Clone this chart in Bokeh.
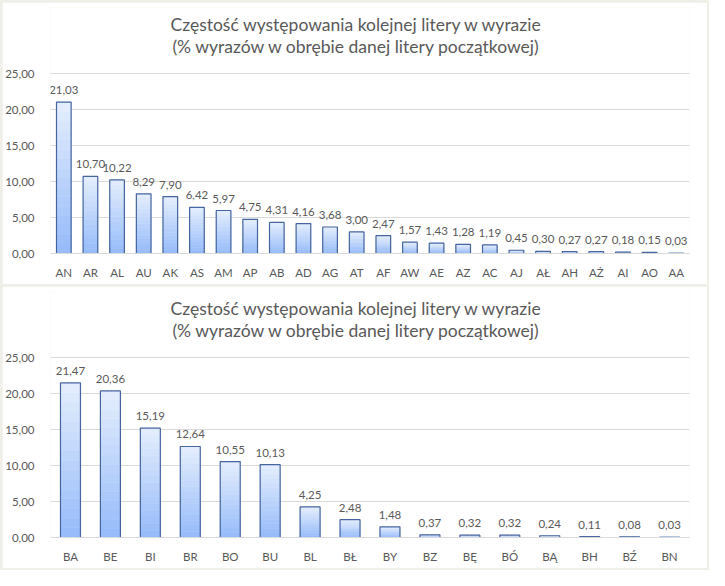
import numpy as np
from bokeh.plotting import figure
from bokeh.models import Label, FixedTicker, ColumnDataSource
from bokeh.layouts import column
from bokeh.embed import file_html
from bokeh.resources import INLINE
from bokeh.core.properties import value

title_line1 = "Częstość występowania kolejnej litery w wyrazie"
title_line2 = "(% wyrazów w obrębie danej litery początkowej)"

a_cats = ["AN", "AR", "AL", "AU", "AK", "AS", "AM", "AP", "AB", "AD", "AG", "AT",
          "AF", "AW", "AE", "AZ", "AC", "AJ", "AŁ", "AH", "AŻ", "AI", "AO", "AA"]
a_vals = [21.03, 10.70, 10.22, 8.29, 7.90, 6.42, 5.97, 4.75, 4.31, 4.16, 3.68, 3.00,
          2.47, 1.57, 1.43, 1.28, 1.19, 0.45, 0.30, 0.27, 0.27, 0.18, 0.15, 0.03]

b_cats = ["BA", "BE", "BI", "BR", "BO", "BU", "BL", "BŁ", "BY", "BZ", "BĘ", "BÓ",
          "BĄ", "BH", "BŹ", "BN"]
b_vals = [21.47, 20.36, 15.19, 12.64, 10.55, 10.13, 4.25, 2.48, 1.48, 0.37, 0.32, 0.32,
          0.24, 0.11, 0.08, 0.03]

y_ticks = [0, 5, 10, 15, 20, 25]
y_tick_labels = ["0,00", "5,00", "10,00", "15,00", "20,00", "25,00"]
y_axis_max = 25

FONT = "Lato"
TXT = "#595959"
GRID = "#d9d9d9"
TOP_RGB = np.array([229, 238, 253])
BOT_RGB = np.array([148, 186, 249])
EDGE = "#45659f"
NSLICE = 16
W, H = 705, 282
B_TOP, B_BOT = 5, 31
GRID_AREA = 180          # pixel height from 0 to the top gridline
FRAME_H = H - B_TOP - B_BOT
Y_END = y_axis_max * FRAME_H / GRID_AREA   # frame extends up to hold the title
# title placement in frame-relative screen units (x from frame left, y up from frame bottom)
TITLE_X = 306
TITLE_Y1, TITLE_Y2 = 229, 207


def hexcol(rgb):
    return "#%02x%02x%02x" % tuple(int(round(c)) for c in rgb)


def make_chart(cats, vals, bar_w):
    p = figure(x_range=cats, y_range=(0, Y_END), width=W, height=H,
               output_backend="svg", toolbar_location=None,
               min_border_left=47, min_border_right=18,
               min_border_top=B_TOP, min_border_bottom=B_BOT)
    p.background_fill_color = "white"
    p.border_fill_color = "white"
    p.outline_line_color = None

    p.xgrid.grid_line_color = None
    p.ygrid.grid_line_color = GRID
    p.ygrid.ticker = FixedTicker(ticks=y_ticks)

    # gradient bars: slices from bottom to top, lightening upward
    for k in range(NSLICE):
        f0, f1 = k / NSLICE, (k + 1) / NSLICE
        t = (k + 0.5) / NSLICE
        col = hexcol(BOT_RGB + (TOP_RGB - BOT_RGB) * t)
        src = ColumnDataSource(dict(x=cats,
                                    b=[v * f0 for v in vals],
                                    t=[v * f1 for v in vals]))
        p.vbar(x="x", bottom="b", top="t", width=bar_w, source=src,
               fill_color=col, line_color=col, line_width=0.6)
    src = ColumnDataSource(dict(x=cats, top=vals,
                                lab=[("%.2f" % v).replace(".", ",") for v in vals]))
    p.vbar(x="x", top="top", width=bar_w, source=src, fill_alpha=0,
           line_color=EDGE, line_width=1.2)
    p.text(x="x", y="top", text="lab", source=src, text_align="center",
           text_baseline="bottom", y_offset=-8, text_color=TXT,
           text_font=value(FONT), text_font_size="11.5px")

    p.yaxis.ticker = FixedTicker(ticks=y_ticks)
    p.yaxis.major_label_overrides = {t: l for t, l in zip(y_ticks, y_tick_labels)}
    p.yaxis.axis_line_color = None
    p.yaxis.major_tick_line_color = None
    p.yaxis.minor_tick_line_color = None
    p.yaxis.major_label_standoff = 10
    p.yaxis.major_label_text_color = TXT
    p.yaxis.major_label_text_font = FONT
    p.yaxis.major_label_text_font_size = "11.5px"

    p.xaxis.axis_line_color = GRID
    p.xaxis.major_tick_line_color = None
    p.xaxis.minor_tick_line_color = None
    p.xaxis.major_label_standoff = 6
    p.xaxis.major_label_text_color = TXT
    p.xaxis.major_label_text_font = FONT
    p.xaxis.major_label_text_font_size = "11.5px"

    for txt, yy in ((title_line1, TITLE_Y1), (title_line2, TITLE_Y2)):
        p.add_layout(Label(x=TITLE_X, y=yy, x_units="screen", y_units="screen",
                           text=txt, text_align="center", text_baseline="middle",
                           text_color=TXT, text_font=FONT,
                           text_font_size="17.5px"))
    return p


p1 = make_chart(a_cats, a_vals, 0.55)
p2 = make_chart(b_cats, b_vals, 0.5)

layout = column(p1, p2, spacing=2,
                styles={"background-color": "#efefe8", "padding": "2px"})

open("out.html", "w").write(file_html(layout, INLINE))
